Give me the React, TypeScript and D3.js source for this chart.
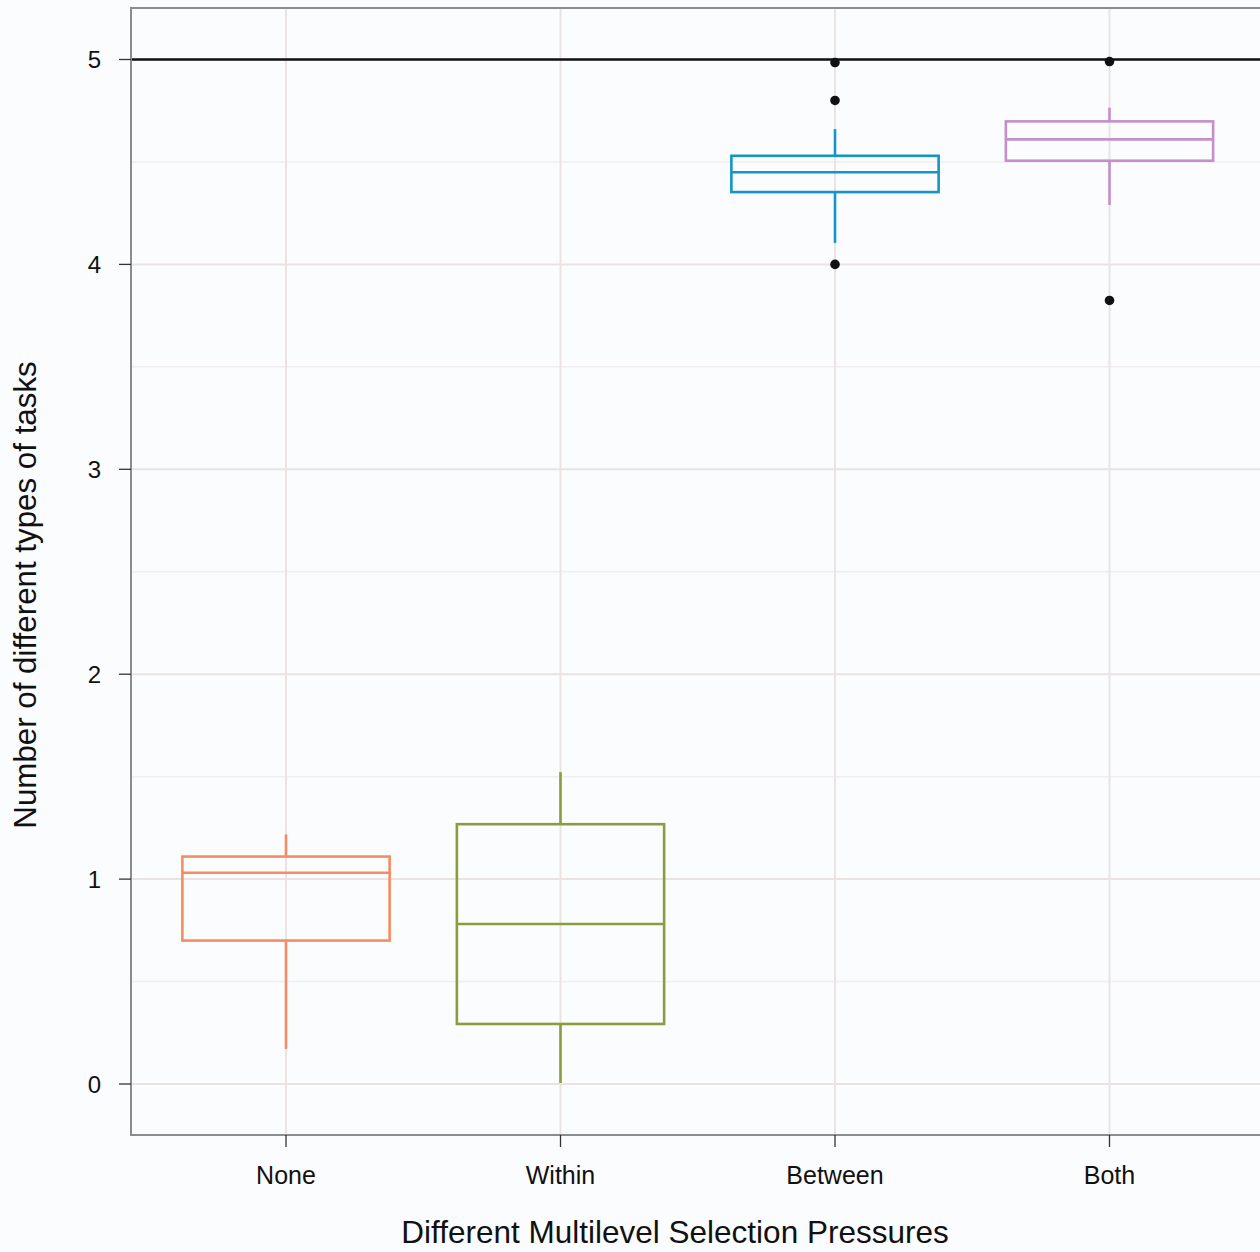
import * as d3 from "d3";

// groups and their box stats
const groups = ["None", "Within", "Between", "Both"];
const colors = ["#f78b62", "#8a9c3e", "#1496c4", "#c58fcb"];
const q1 = [0.7, 0.293, 4.353, 4.506];
const medians = [1.031, 0.781, 4.45, 4.61];
const q3 = [1.11, 1.268, 4.53, 4.698];
const whiskLow = [0.171, 0.005, 4.105, 4.29];
const whiskHigh = [1.218, 1.522, 4.66, 4.765];
const outliers = [[], [], [4.985, 4.8, 4.0], [4.99, 3.824]];
const yTicks = [0, 1, 2, 3, 4, 5];
const yMinor = [0.5, 1.5, 2.5, 3.5, 4.5];
const refLine = 5;

const width = 1260;
const height = 1252;
const marginLeft = 131;
const marginTop = 8;
const plotRight = 1264;
const plotBottom = 1135;

const App = () => {
  const y = d3.scaleLinear().domain([0, 5]).range([1084, 59.5]);
  const x = d3.scalePoint().domain(groups).range([286, 1109.5]);
  const step = x.step();
  const boxW = step * 0.755;
  const font = "Liberation Sans, Arial, sans-serif";

  return (
    <svg
      width={width}
      height={height}
      style={{ position: "absolute", left: 0, top: 0, background: "#fbfcfe" }}
    >
      <rect x={0} y={0} width={width} height={height} fill="#fbfcfe" />
      <rect
        x={marginLeft}
        y={marginTop}
        width={plotRight - marginLeft}
        height={plotBottom - marginTop}
        fill="#fbfcfe"
      />
      {/* grid */}
      {yMinor.map((t) => (
        <line key={"m" + t} x1={marginLeft} x2={plotRight} y1={y(t)} y2={y(t)} stroke="#f2eeee" strokeWidth={1.5} />
      ))}
      {yTicks.map((t) => (
        <line key={"g" + t} x1={marginLeft} x2={plotRight} y1={y(t)} y2={y(t)} stroke="#e9e3e2" strokeWidth={2} />
      ))}
      {groups.map((g) => (
        <line key={"v" + g} x1={x(g)} x2={x(g)} y1={marginTop} y2={plotBottom} stroke="#e9e3e2" strokeWidth={2} />
      ))}
      {/* reference line */}
      <line x1={marginLeft} x2={plotRight} y1={y(refLine)} y2={y(refLine)} stroke="#111" strokeWidth={2.6} />
      {/* boxes */}
      {groups.map((g, i) => {
        const cx = x(g)!;
        return (
          <g key={g} stroke={colors[i]} strokeWidth={2.6} fill="none">
            <line x1={cx} x2={cx} y1={y(whiskHigh[i])} y2={y(q3[i])} />
            <line x1={cx} x2={cx} y1={y(q1[i])} y2={y(whiskLow[i])} />
            <rect x={cx - boxW / 2} y={y(q3[i])} width={boxW} height={y(q1[i]) - y(q3[i])} />
            <line x1={cx - boxW / 2} x2={cx + boxW / 2} y1={y(medians[i])} y2={y(medians[i])} />
          </g>
        );
      })}
      {groups.map((g, i) =>
        outliers[i].map((v, j) => (
          <circle key={g + j} cx={x(g)} cy={y(v)} r={4.8} fill="#111" />
        ))
      )}
      {/* frame */}
      <path
        d={`M${plotRight},${marginTop}H${marginLeft}V${plotBottom}H${plotRight}`}
        fill="none"
        stroke="#8c8c8c"
        strokeWidth={2}
      />
      {/* y axis */}
      {yTicks.map((t) => (
        <g key={"yt" + t}>
          <line x1={119} x2={marginLeft} y1={y(t)} y2={y(t)} stroke="#333" strokeWidth={1.3} />
          <text x={101} y={y(t)} dy="0.36em" textAnchor="end" fontSize={24} fontFamily={font} fill="#111">
            {t}
          </text>
        </g>
      ))}
      {/* x axis */}
      {groups.map((g) => (
        <g key={"xt" + g}>
          <line x1={x(g)} x2={x(g)} y1={plotBottom} y2={plotBottom + 12} stroke="#333" strokeWidth={1.3} />
          <text x={x(g)} y={1184} textAnchor="middle" fontSize={25} fontFamily={font} fill="#111">
            {g}
          </text>
        </g>
      ))}
      <text x={675} y={1243} textAnchor="middle" fontSize={31.5} fontFamily={font} fill="#111">
        Different Multilevel Selection Pressures
      </text>
      <text
        transform={`translate(36,595) rotate(-90)`}
        textAnchor="middle"
        fontSize={31.3}
        fontFamily={font}
        fill="#111"
      >
        Number of different types of tasks
      </text>
    </svg>
  );
};

export default App;
